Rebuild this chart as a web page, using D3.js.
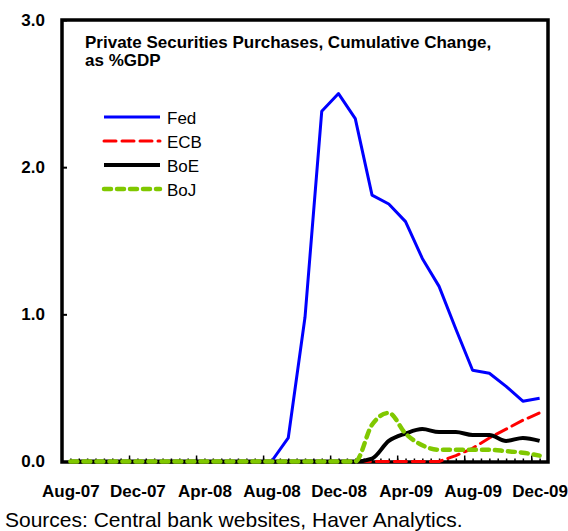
<!DOCTYPE html>
<html>
<head>
<meta charset="utf-8">
<script src="https://cdn.jsdelivr.net/npm/d3@7"></script>
<style>
    body { margin: 0; background: #fff; }
    svg { display: block; font-family: "Liberation Sans", Arial, sans-serif; }
</style>
</head>
<body>
<div id="chart"></div>
<script>
const months = ['Aug-07', 'Sep-07', 'Oct-07', 'Nov-07', 'Dec-07', 'Jan-08', 'Feb-08', 'Mar-08',
    'Apr-08', 'May-08', 'Jun-08', 'Jul-08', 'Aug-08', 'Sep-08', 'Oct-08', 'Nov-08', 'Dec-08',
    'Jan-09', 'Feb-09', 'Mar-09', 'Apr-09', 'May-09', 'Jun-09', 'Jul-09', 'Aug-09', 'Sep-09',
    'Oct-09', 'Nov-09', 'Dec-09'];

const fed = [0, 0, 0, 0, 0, 0, 0, 0, 0, 0, 0, 0, 0, 0.16, 0.98, 2.38, 2.50,
    2.33, 1.81, 1.75, 1.63, 1.38, 1.19, 0.90, 0.62, 0.60, 0.51, 0.41, 0.43];
const ecb = [0, 0, 0, 0, 0, 0, 0, 0, 0, 0, 0, 0, 0, 0, 0, 0, 0,
    0, 0, 0, 0, 0, 0, 0.04, 0.09, 0.16, 0.22, 0.28, 0.33];
const boe = [0, 0, 0, 0, 0, 0, 0, 0, 0, 0, 0, 0, 0, 0, 0, 0, 0,
    0, 0.02, 0.14, 0.19, 0.22, 0.20, 0.20, 0.18, 0.18, 0.14, 0.16, 0.14];
const boj = [0, 0, 0, 0, 0, 0, 0, 0, 0, 0, 0, 0, 0, 0, 0, 0, 0,
    0, 0.25, 0.33, 0.19, 0.11, 0.08, 0.08, 0.08, 0.08, 0.07, 0.06, 0.04];

const yTicks = [0, 1, 2, 3];
const titleLines = ['Private Securities Purchases, Cumulative Change,', 'as %GDP'];
const source = 'Sources: Central bank websites, Haver Analytics.';

const series = [
    { name: 'Fed', values: fed, color: '#0000ff', width: 3, dash: null, curve: d3.curveLinear },
    { name: 'ECB', values: ecb, color: '#ff0000', width: 3, dash: '12,6', curve: d3.curveLinear },
    { name: 'BoE', values: boe, color: '#000000', width: 4, dash: null, curve: d3.curveMonotoneX },
    { name: 'BoJ', values: boj, color: '#80c800', width: 4.5, dash: '7,6', curve: d3.curveMonotoneX }
];

const W = 568, H = 531;
const plot = { left: 62, right: 548, top: 20, bottom: 462 };

const svg = d3.select('#chart')
    .append('svg')
    .attr('width', W)
    .attr('height', H);

const x = d3.scaleLinear()
    .domain([-0.5, months.length - 0.5])
    .range([plot.left, plot.right]);

const y = d3.scaleLinear()
    .domain([0, 3])
    .range([461.5, plot.top]);

// frame first, lines go on top of it
svg.append('rect')
    .attr('x', plot.left)
    .attr('y', plot.top)
    .attr('width', plot.right - plot.left)
    .attr('height', plot.bottom - plot.top)
    .attr('fill', 'none')
    .attr('stroke', '#000')
    .attr('stroke-width', 3.5);

// y axis labels + inner ticks
let yAxis = d3.axisLeft(y)
    .tickValues(yTicks)
    .tickFormat(d3.format('.1f'))
    .tickSize(-5)
    .tickPadding(17);

svg.append('g')
    .attr('transform', 'translate(' + plot.left + ',0)')
    .call(yAxis)
    .call(g => g.select('.domain').remove())
    .call(g => g.selectAll('line').attr('stroke', '#000').attr('stroke-width', 2))
    .call(g => g.selectAll('text')
        .attr('fill', '#000')
        .style('font-size', '17px')
        .style('font-weight', 'bold'));

// x minor ticks (every half month)
let minorVals = d3.range(0, months.length * 2 - 1).map(k => k * 0.5);
svg.append('g')
    .attr('transform', 'translate(0,' + plot.bottom + ')')
    .call(d3.axisBottom(x).tickValues(minorVals).tickSize(-3.5).tickFormat(''))
    .call(g => g.select('.domain').remove())
    .call(g => g.selectAll('line').attr('stroke', '#000').attr('stroke-width', 1.5));

// x major ticks (every 4 months, between categories)
svg.append('g')
    .attr('transform', 'translate(0,' + plot.bottom + ')')
    .call(d3.axisBottom(x).tickValues(d3.range(3.5, months.length - 1, 4)).tickSize(-6.5).tickFormat(''))
    .call(g => g.select('.domain').remove())
    .call(g => g.selectAll('line').attr('stroke', '#000').attr('stroke-width', 1.5));

// x labels
svg.append('g')
    .attr('transform', 'translate(0,' + plot.bottom + ')')
    .call(d3.axisBottom(x)
        .tickValues(d3.range(0, months.length, 4))
        .tickFormat(i => months[i])
        .tickSize(0)
        .tickPadding(23))
    .call(g => g.select('.domain').remove())
    .call(g => g.selectAll('text')
        .attr('fill', '#000')
        .style('font-size', '17px')
        .style('font-weight', 'bold'));

// lines
let lineWrapper = svg.append('g').attr('class', 'lineWrapper');
series.forEach(s => {
    let line = d3.line()
        .x((d, i) => x(i))
        .y(d => y(d))
        .curve(s.curve);
    lineWrapper.append('path')
        .attr('d', line(s.values))
        .attr('fill', 'none')
        .attr('stroke', s.color)
        .attr('stroke-width', s.width)
        .attr('stroke-dasharray', s.dash)
        .attr('stroke-linejoin', 'round')
        .attr('stroke-linecap', s.dash ? 'round' : 'butt');
});

// title inside the plot
svg.append('text')
    .attr('x', 85)
    .attr('y', 48)
    .style('font-size', '17px')
    .style('font-weight', 'bold')
    .selectAll('tspan')
    .data(titleLines)
    .enter()
    .append('tspan')
    .attr('x', 85)
    .attr('dy', (d, i) => i === 0 ? 0 : 18)
    .text(d => d);

// legend
let legend = svg.append('g')
    .attr('class', 'legend')
    .attr('transform', 'translate(104,117)');

let items = legend.selectAll('g')
    .data(series)
    .enter()
    .append('g')
    .attr('transform', (d, i) => 'translate(0,' + (i * 24) + ')');

items.append('line')
    .attr('x1', 0)
    .attr('x2', 56)
    .attr('stroke', d => d.color)
    .attr('stroke-width', d => d.width)
    .attr('stroke-dasharray', d => d.dash)
    .attr('stroke-linecap', d => d.dash ? 'round' : 'butt');

items.append('text')
    .attr('x', 63)
    .attr('y', 6.5)
    .style('font-size', '17px')
    .text(d => d.name);

// source note
svg.append('text')
    .attr('x', 5)
    .attr('y', 527)
    .style('font-size', '21px')
    .text(source);
</script>
</body>
</html>
